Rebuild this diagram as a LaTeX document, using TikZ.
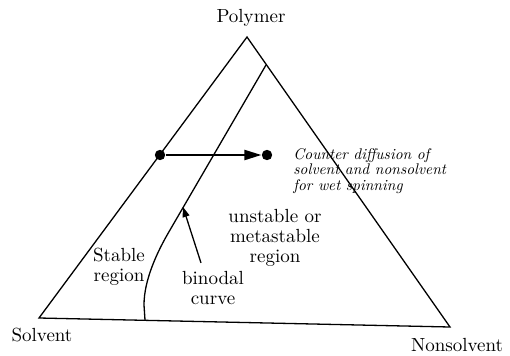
\documentclass[tikz,border=0pt]{standalone}
\usepackage{fontspec}
\newfontfamily\notefont{lmroman10-italic}[Extension=.otf]
\usepackage{tikz}
\usetikzlibrary{arrows.meta,positioning}

\begin{document}
\begin{tikzpicture}[
  x=0.5pt, y=-0.5pt,
  >=Stealth,
  lbl/.style   = {font=\fontsize{9.5}{10}\selectfont, align=center, inner sep=0pt},
  note/.style  = {font=\notefont\fontsize{7.7}{7.9}\selectfont, align=left, inner sep=0pt},
  dot/.style   = {circle, fill=black, inner sep=0pt, minimum size=5.2pt},
  side/.style  = {line width=0.65pt},
  arr/.style   = {-{Triangle[length=8.5pt,width=5pt]}, line width=1.1pt},
  parr/.style  = {-{Triangle[length=5pt,width=3.5pt]}, line width=0.65pt}
]
\useasboundingbox (0,0) rectangle (510,355);

%%% ---- TRIANGLE ----
\coordinate (P) at (247,37);
\coordinate (S) at (39,318);
\coordinate (N) at (450,327);
\draw[side, line join=miter] (P) -- (N) -- (S) -- cycle;

%%% ---- BINODAL CURVE ----
\coordinate (btop) at (266,65);
\coordinate (bbot) at (145,320);
\coordinate (bpt)  at (183,207);
\draw[side] (btop) -- (170,230) .. controls (157,252) and (144,280) .. (144,305) -- (bbot);

%%% ---- CORNER LABELS ----
\node[lbl] (poly) at (251,18)  {Polymer};
\node[lbl] (solv) at (42,335)  {Solvent};
\node[lbl] (nons) at (457,345) {Nonsolvent};

%%% ---- REGIONS ----
\node[lbl] (stab) at (119,267) {Stable\\region};
\node[lbl] (unst) at (275,238) {unstable or\\metastable\\region};
\node[lbl] (bino) at (213,288) {binodal\\curve};
\draw[parr] ([xshift=-6pt,yshift=4pt]bino.north) -- (bpt);

%%% ---- COUNTER DIFFUSION ----
\node[dot] (d1) at (160,155) {};
\node[dot] (d2) at (267,155) {};
\draw[arr] (d1) -- (d2);
\node[note, anchor=west] (cdif) at (293,171)
  {Counter diffusion of\\solvent and nonsolvent\\for wet spinning};
\end{tikzpicture}
\end{document}
